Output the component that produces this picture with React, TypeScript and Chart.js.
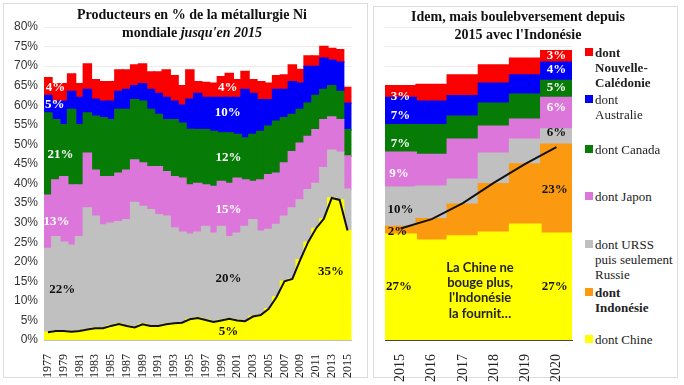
import React, { useEffect, useRef } from 'react';
import { Chart, registerables } from 'chart.js';
Chart.register(...registerables);

// ---------- Left panel data (share of world Ni metallurgy, %) ----------
const yearsLeft = ['1977','1978','1979','1980','1981','1982','1983','1984','1985','1986','1987','1988','1989','1990','1991','1992','1993','1994','1995','1996','1997','1998','1999','2000','2001','2002','2003','2004','2005','2006','2007','2008','2009','2010','2011','2012','2013','2014','2015'];
const chinaLeft = [2.0,2.3,2.3,2.1,2.3,2.7,3.0,3.0,3.6,4.1,3.6,3.2,4.0,3.6,3.6,4.0,4.3,4.4,5.3,5.6,5.1,4.6,5.0,5.4,5.0,4.8,6.0,6.4,8.0,11.0,15.0,15.6,20.5,25.0,28.5,31.0,36.3,35.8,28.0];
const russiaLeft = [21.4,24.1,22.7,22.1,24.1,31.0,28.6,26.4,26.2,26.1,27.1,31.9,30.1,29.7,28.4,27.6,24.3,23.1,21.7,21.9,23.9,22.7,24.0,21.0,22.3,24.2,24.7,21.4,20.2,18.5,16.6,18.1,15.3,13.4,11.5,13.0,12.2,12.2,10.5];
const japanLeft = [13.6,14.5,16.7,15.4,13.2,14.0,11.8,12.3,11.9,12.4,12.7,10.9,11.1,11.0,12.3,11.4,13.1,13.8,12.6,12.5,10.6,11.9,11.5,13.6,14.0,11.9,9.8,13.1,14.0,13.1,13.6,14.4,14.5,13.6,13.7,12.3,8.5,8.3,8.5];
const canadaLeft = [21.0,15.4,13.3,19.3,15.4,10.3,13.8,15.1,14.6,16.3,15.5,15.4,15.8,14.6,13.3,13.3,14.6,14.1,14.2,13.7,14.1,14.1,12.4,12.9,11.2,10.7,12.0,12.4,12.4,13.3,11.6,9.5,8.6,8.5,8.8,7.7,8.0,7.2,6.7];
const australiaLeft = [4.5,4.7,6.0,4.6,7.0,6.0,4.3,4.2,4.7,4.6,5.1,3.6,4.5,5.1,5.4,5.7,4.7,4.6,7.7,9.3,8.3,8.7,9.1,9.1,9.5,12.4,10.5,8.1,6.8,8.1,7.2,8.4,6.7,9.4,7.4,8.0,6.5,7.5,6.8];
const ncLeft = [4.5,4.5,4.5,4.5,3.5,6.5,5.0,5.0,5.0,5.5,5.0,5.3,5.0,4.5,5.5,7.0,6.5,5.0,7.5,3.0,3.8,3.6,5.3,6.1,4.5,4.6,3.5,4.6,4.2,3.5,3.7,4.3,3.5,2.7,2.7,3.0,3.0,3.2,4.0];

// ---------- Right panel data ----------
const yearsRight = ['2015','2016','2017','2018','2019','2020'];
const chinaRight = [27, 25.5, 26.6, 27.5, 29.6, 27.3];
const indonesiaRight = [2, 5.5, 8.1, 12.4, 15.4, 22.7];
const russiaRight = [10, 8.3, 6.4, 7.8, 6.3, 3.9];
const japanRight = [9, 8.1, 10.2, 6.9, 5.1, 8.1];
const canadaRight = [7, 7.6, 5.9, 5.9, 6.4, 4.3];
const australiaRight = [7, 6.0, 5.2, 5.1, 4.9, 4.7];
const ncRight = [3, 4.3, 5.3, 4.7, 4.3, 2.9];
const chinaIndoLine = [28.5, 30.9, 35.0, 40.2, 45.0, 49.3];

// ---------- Data labels: [category index, value, text, colour] ----------
const leftLabels: [number, number, string, string][] = [
  [0.97, 64.6, '4%', '#ffffff'],
  [0.85, 60.1, '5%', '#ffffff'],
  [1.59, 47.3, '21%', '#ffffff'],
  [1.1, 30.3, '13%', '#ffffff'],
  [1.83, 12.8, '22%', '#111111'],
  [22.8, 64.6, '4%', '#ffffff'],
  [22.8, 58.0, '10%', '#ffffff'],
  [22.9, 46.7, '12%', '#ffffff'],
  [22.9, 33.2, '15%', '#ffffff'],
  [22.9, 15.8, '20%', '#111111'],
  [22.9, 2.1, '5%', '#111111'],
  [35.9, 17.4, '35%', '#111111'],
];
const rightLabels: [number, number, string, string][] = [
  [0, 62.2, '3%', '#ffffff'],
  [0, 57.3, '7%', '#ffffff'],
  [0, 50.3, '7%', '#ffffff'],
  [-0.05, 42.6, '9%', '#ffffff'],
  [0, 33.2, '10%', '#111111'],
  [-0.1, 27.7, '2%', '#111111'],
  [-0.05, 13.6, '27%', '#111111'],
  [5, 72.6, '3%', '#ffffff'],
  [5, 69.1, '4%', '#ffffff'],
  [5, 64.4, '5%', '#ffffff'],
  [5, 59.3, '6%', '#ffffff'],
  [5, 52.9, '6%', '#111111'],
  [4.95, 38.4, '23%', '#111111'],
  [4.95, 13.6, '27%', '#111111'],
];
const noteLines = ['La Chine ne', 'bouge plus,', "l'Indonésie", 'la fournit…'];

const C = {
  yellow: '#ffff00',
  orange: '#fb9a10',
  gray: '#c0c0c0',
  pink: '#dc76da',
  green: '#067c06',
  blue: '#0000fa',
  red: '#fa0000',
};

const SERIF = '"Liberation Serif", "Times New Roman", serif';

function labelPlugin(labels: [number, number, string, string][], note?: boolean) {
  return {
    id: 'dataLabelsCustom',
    afterDatasetsDraw(chart: any) {
      const { ctx, scales } = chart;
      ctx.save();
      ctx.font = `bold 13px ${SERIF}`;
      ctx.textAlign = 'center';
      ctx.textBaseline = 'middle';
      for (const [i, v, t, col] of labels) {
        ctx.fillStyle = col;
        ctx.fillText(t, scales.x.getPixelForValue(i), scales.y.getPixelForValue(v));
      }
      if (note) {
        ctx.font = `bold 13px Lato, "Liberation Sans", sans-serif`;
        ctx.fillStyle = '#222222';
        const cx = scales.x.getPixelForValue(2.55);
        const vals = [18.4, 14.5, 10.7, 6.6];
        noteLines.forEach((line, k) => {
          ctx.fillText(line, cx, scales.y.getPixelForValue(vals[k]));
        });
      }
      ctx.restore();
    },
  };
}

function barDs(label: string, data: number[], color: string) {
  return {
    type: 'bar' as const,
    label,
    data,
    backgroundColor: color,
    borderWidth: 0,
    inflateAmount: 0.8,
    categoryPercentage: 1,
    barPercentage: 1,
    stack: 'main',
    order: 1,
  };
}

export default function App() {
  const leftRef = useRef<HTMLCanvasElement>(null);
  const rightRef = useRef<HTMLCanvasElement>(null);

  useEffect(() => {
    const left = new Chart(leftRef.current!, {
      type: 'bar',
      data: {
        labels: yearsLeft,
        datasets: [
          {
            type: 'line' as const,
            label: 'Chine (ligne)',
            data: chinaLeft,
            borderColor: '#111111',
            borderWidth: 2,
            pointRadius: 0,
            fill: 'origin',
            backgroundColor: C.yellow,
            stack: 'line',
            order: 0,
          } as any,
          barDs('dont Chine', chinaLeft, C.yellow),
          barDs('dont URSS puis seulement Russie', russiaLeft, C.gray),
          barDs('dont Japon', japanLeft, C.pink),
          barDs('dont Canada', canadaLeft, C.green),
          barDs('dont Australie', australiaLeft, C.blue),
          barDs('dont Nouvelle-Calédonie', ncLeft, C.red),
        ],
      },
      options: {
        animation: false,
        responsive: false,
        maintainAspectRatio: false,
        layout: { padding: { left: 4, right: 6, top: 27, bottom: 0 } },
        plugins: { legend: { display: false }, tooltip: { enabled: false } },
        scales: {
          x: {
            stacked: true,
            grid: { display: false },
            border: { display: true, color: '#bfbfbf' },
            ticks: {
              autoSkip: false,
              maxRotation: 90,
              minRotation: 90,
              padding: 6,
              color: '#222',
              font: { family: SERIF, size: 12 },
              callback: (_v: any, i: number) => (i % 2 === 0 ? yearsLeft[i] : ''),
            },
            afterFit: (s: any) => { s.height = 45; },
          },
          y: {
            stacked: true,
            min: 0,
            max: 80,
            grid: { color: '#ececec', drawTicks: false },
            border: { display: false },
            ticks: {
              stepSize: 5,
              padding: 6,
              color: '#333',
              font: { family: '"Liberation Sans", Arial, sans-serif', size: 12 },
              callback: (v: any) => v + '%',
            },
            afterFit: (s: any) => { s.width = 40; },
          },
        },
      },
      plugins: [labelPlugin(leftLabels)],
    } as any);

    const right = new Chart(rightRef.current!, {
      type: 'bar',
      data: {
        labels: yearsRight,
        datasets: [
          {
            type: 'line' as const,
            label: 'Chine + Indonésie',
            data: chinaIndoLine,
            borderColor: '#111111',
            borderWidth: 2,
            pointRadius: 0,
            fill: false,
            stack: 'line',
            order: 0,
          } as any,
          barDs('dont Chine', chinaRight, C.yellow),
          barDs('dont Indonésie', indonesiaRight, C.orange),
          barDs('dont URSS puis seulement Russie', russiaRight, C.gray),
          barDs('dont Japon', japanRight, C.pink),
          barDs('dont Canada', canadaRight, C.green),
          barDs('dont Australie', australiaRight, C.blue),
          barDs('dont Nouvelle-Calédonie', ncRight, C.red),
        ],
      },
      options: {
        animation: false,
        responsive: false,
        maintainAspectRatio: false,
        layout: { padding: { left: 13, right: 12, top: 27, bottom: 0 } },
        plugins: { legend: { display: false }, tooltip: { enabled: false } },
        scales: {
          x: {
            stacked: true,
            grid: { display: false },
            border: { display: true, color: '#444' },
            ticks: {
              autoSkip: false,
              maxRotation: 90,
              minRotation: 90,
              padding: 6,
              color: '#222',
              font: { family: SERIF, size: 14 },
            },
            afterFit: (s: any) => { s.height = 45; },
          },
          y: {
            stacked: true,
            min: 0,
            max: 80,
            grid: { color: '#ececec', drawTicks: false },
            border: { display: false },
            ticks: { display: false, stepSize: 5 },
            afterFit: (s: any) => { s.width = 0; },
          },
        },
      },
      plugins: [labelPlugin(rightLabels, true)],
    } as any);

    return () => {
      left.destroy();
      right.destroy();
    };
  }, []);

  const legendItems: { color: string; lines: string[]; bold: boolean; top: number }[] = [
    { color: C.red, lines: ['dont', 'Nouvelle-', 'Calédonie'], bold: true, top: 45 },
    { color: C.blue, lines: ['dont', 'Australie'], bold: false, top: 92 },
    { color: C.green, lines: ['dont Canada'], bold: false, top: 142 },
    { color: C.pink, lines: ['dont Japon'], bold: false, top: 189 },
    { color: C.gray, lines: ['dont URSS', 'puis seulement', 'Russie'], bold: false, top: 237 },
    { color: C.orange, lines: ['dont', 'Indonésie'], bold: true, top: 285 },
    { color: C.yellow, lines: ['dont Chine'], bold: false, top: 332 },
  ];

  return (
    <div style={{ position: 'fixed', left: 0, top: 0, width: 684, height: 385, background: '#fff', overflow: 'hidden' }}>
      <div style={{ position: 'absolute', left: 3, top: 3, width: 363, height: 373, border: '1px solid #dcdcdc' }} />
      <div style={{ position: 'absolute', left: 373, top: 6, width: 303, height: 370, border: '1px solid #dcdcdc' }} />
      <canvas ref={leftRef} width={368} height={385} style={{ position: 'absolute', left: 0, top: 0, width: 368, height: 385 }} />
      <canvas ref={rightRef} width={212} height={385} style={{ position: 'absolute', left: 372, top: 0, width: 212, height: 385 }} />
      <div style={{ position: 'absolute', left: 0, top: 6, width: 384, textAlign: 'center', fontFamily: SERIF, fontWeight: 'bold', fontSize: 14, lineHeight: '18px', color: '#111' }}>
        <div>Producteurs en % de la métallurgie Ni</div>
        <div>mondiale <i>jusqu'en 2015</i></div>
      </div>
      <div style={{ position: 'absolute', left: 373, top: 8, width: 290, textAlign: 'center', fontFamily: SERIF, fontWeight: 'bold', fontSize: 14, lineHeight: '18px', color: '#111' }}>
        <div>Idem, mais boulebversement depuis</div>
        <div>2015 avec l'Indonésie</div>
      </div>
      {legendItems.map((it, k) => (
        <div key={k}>
          <div style={{ position: 'absolute', left: 585, top: it.top + 3, width: 8, height: 8, background: it.color }} />
          <div style={{ position: 'absolute', left: 595, top: it.top, fontFamily: SERIF, fontSize: 13, lineHeight: '15px', fontWeight: it.bold ? 'bold' : 'normal', color: '#222', whiteSpace: 'nowrap' }}>
            {it.lines.map((l, j) => <div key={j}>{l}</div>)}
          </div>
        </div>
      ))}
    </div>
  );
}
